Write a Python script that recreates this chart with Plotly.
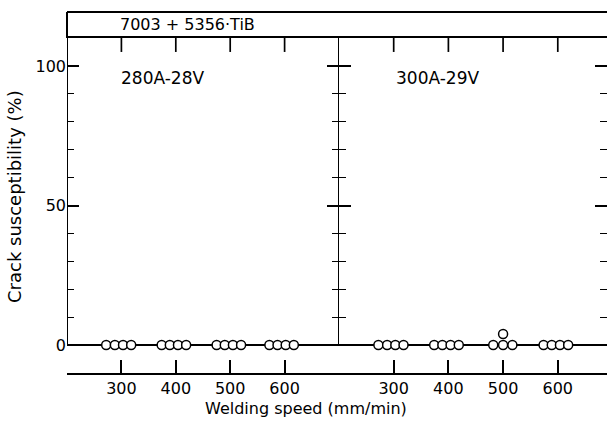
import plotly.graph_objects as go

# ---- data ----
x_tick_vals = [200, 300, 400, 500, 600, 700]
x_tick_text = ["", "300", "400", "500", "600", ""]
y_tick_vals = [0, 50, 100]
y_tick_text = ["0", "50", "100"]

# panel 1: 280A-28V (four specimens per welding speed)
left_speed = [272, 288, 303, 318, 374, 389, 404, 419, 475, 490, 505, 520, 572, 587, 602, 617]
left_crack = [0, 0, 0, 0, 0, 0, 0, 0, 0, 0, 0, 0, 0, 0, 0, 0]
# panel 2: 300A-29V
right_speed = [272, 288, 303, 318, 374, 389, 404, 419, 482, 500, 500, 517, 574, 589, 604, 619]
right_crack = [0, 0, 0, 0, 0, 0, 0, 0, 0, 0, 4, 0, 0, 0, 0, 0]

title_text = "7003 + 5356·TiB"
panel_labels = ["280A-28V", "300A-29V"]
x_title = "Welding speed (mm/min)"
y_title = "Crack susceptibility (%)"

FONT = "DejaVu Sans"
W, H = 607, 422
ML, MR, MT, MB = 67, 0, 38, 49
plot_w = W - ML - MR
plot_h = H - MT - MB
left_px = 272
split = left_px / plot_w
y_range = [-10, 110]
header_top = 1 + 26 / plot_h


def px_x(p):
    return (p - ML) / plot_w


def px_y(p):
    return (H - MB - p) / plot_h


fig = go.Figure()
marker = dict(symbol="circle", size=9, color="white", line=dict(color="black", width=1.5))
fig.add_trace(go.Scatter(x=left_speed, y=left_crack, mode="markers", marker=marker,
                         xaxis="x", yaxis="y", showlegend=False, cliponaxis=False))
fig.add_trace(go.Scatter(x=right_speed, y=right_crack, mode="markers", marker=marker,
                         xaxis="x2", yaxis="y2", showlegend=False, cliponaxis=False))

xcommon = dict(tickvals=x_tick_vals, ticktext=x_tick_text, ticks="inside", ticklen=13,
               tickwidth=1.6, tickcolor="black", showline=True, linecolor="black",
               linewidth=2, mirror=True, showgrid=False, zeroline=False,
               automargin=False,
               tickfont=dict(family=FONT, size=16, color="black"))
ycommon = dict(range=y_range, tickvals=y_tick_vals, ticks="inside", ticklen=12,
               tickwidth=1.6, tickcolor="black", showline=False, mirror="ticks",
               showgrid=False, zeroline=True, zerolinecolor="black", zerolinewidth=1.6,
               automargin=False,
               minor=dict(dtick=10, tick0=0, ticks="inside", ticklen=7, tickwidth=1.4,
                          tickcolor="black", showgrid=False),
               tickfont=dict(family=FONT, size=16, color="black"))

fig.update_layout(
    width=W, height=H, margin=dict(l=ML, r=MR, t=MT, b=MB, autoexpand=False),
    paper_bgcolor="white", plot_bgcolor="white",
    xaxis=dict(domain=[0, split], range=[200, 700], anchor="y", **xcommon),
    xaxis2=dict(domain=[split, 1], range=[200, 690], anchor="y2", **xcommon),
    yaxis=dict(anchor="x", ticktext=y_tick_text, showticklabels=True, **ycommon),
    yaxis2=dict(anchor="x2", matches="y", showticklabels=False, **ycommon),
)

line = dict(color="black", width=2)
shapes = [
    # left frame line (data part and header part)
    dict(type="line", xref="x", yref="y", x0=200, x1=200, y0=0, y1=110, line=line),
    dict(type="line", xref="paper", yref="paper", x0=0, x1=0, y0=1, y1=header_top, line=line),
    # divider between panels
    dict(type="line", xref="x", yref="y", x0=700, x1=700, y0=0, y1=110, line=line),
    # header top line
    dict(type="line", xref="paper", yref="paper", x0=0, x1=1, y0=header_top, y1=header_top, line=line),
]
# ticks hanging from the header line, at the labelled welding speeds
for xa, ya in (("x", "y"), ("x2", "y2")):
    for v, t in zip(x_tick_vals, x_tick_text):
        if t:
            shapes.append(dict(type="line", xref=xa, yref=ya, x0=v, x1=v, y0=110, y1=105,
                               line=dict(color="black", width=1.7), layer="above"))
fig.update_layout(shapes=shapes)

ann = [
    dict(text=title_text, xref="paper", yref="paper", x=px_x(118), y=px_y(25),
         xanchor="left", yanchor="middle", showarrow=False,
         font=dict(family=FONT, size=16, color="black")),
    dict(text=panel_labels[0], xref="paper", yref="paper", x=px_x(119), y=px_y(78),
         xanchor="left", yanchor="middle", showarrow=False,
         font=dict(family=FONT, size=17, color="black")),
    dict(text=panel_labels[1], xref="paper", yref="paper", x=px_x(394), y=px_y(78),
         xanchor="left", yanchor="middle", showarrow=False,
         font=dict(family=FONT, size=17, color="black")),
    dict(text=x_title, xref="paper", yref="paper", x=px_x(306), y=px_y(408),
         xanchor="center", yanchor="middle", showarrow=False,
         font=dict(family=FONT, size=16, color="black")),
    dict(text=y_title, xref="paper", yref="paper", x=px_x(14), y=px_y(197),
         xanchor="center", yanchor="middle", showarrow=False,
         textangle=-90, font=dict(family=FONT, size=18, color="black")),
]
fig.update_layout(annotations=ann)

fig.write_html("out.html", config={"displayModeBar": False},
               post_script="document.body.style.margin='0';document.body.style.overflow='hidden';")
